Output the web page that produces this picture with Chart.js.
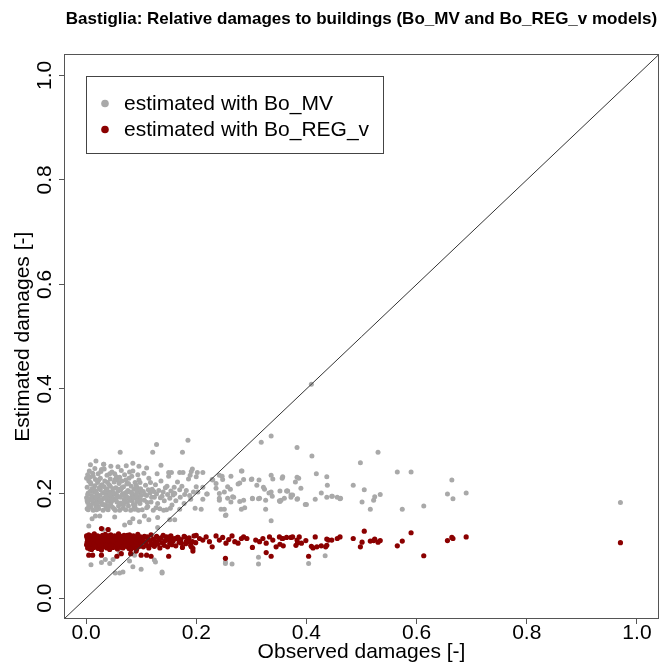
<!DOCTYPE html>
<html><head><meta charset="utf-8">
<script src="https://cdn.jsdelivr.net/npm/chart.js@4.4.1/dist/chart.umd.min.js"></script>
<style>html,body{margin:0;padding:0;background:#fff;}canvas{display:block;}</style>
</head><body>
<canvas id="c" width="665" height="668"></canvas>
<script>
const chartTitle = 'Bastiglia: Relative damages to buildings (Bo_MV and Bo_REG_v models)';
const xAxisTitle = 'Observed damages [-]';
const yAxisTitle = 'Estimated damages [-]';
const seriesNames = ['estimated with Bo_MV', 'estimated with Bo_REG_v'];
const tickValues = [0, 0.2, 0.4, 0.6, 0.8, 1.0];
const axisRange = [-0.04, 1.04];

// observed vs estimated (Bo_MV)
const boMV = [
[0.002,0.171],[0.003,0.183],[0.001,0.192],[0.004,0.201],[0.002,0.212],[0.005,0.224],[0.003,0.236],[0.006,0.178],[0.007,0.189],[0.008,0.205],
[0.009,0.218],[0.004,0.169],[0.010,0.196],[0.001,0.229],[0.006,0.243],[0.009,0.174],[0.002,0.186],[0.011,0.209],[0.007,0.231],[0.012,0.181],
[0.013,0.168],[0.014,0.192],[0.015,0.203],[0.016,0.215],[0.017,0.227],[0.018,0.176],[0.019,0.188],[0.020,0.199],[0.021,0.221],[0.022,0.238],
[0.023,0.171],[0.024,0.184],[0.025,0.196],[0.026,0.207],[0.027,0.214],[0.028,0.246],[0.029,0.179],[0.013,0.233],[0.016,0.248],[0.019,0.169],
[0.021,0.194],[0.024,0.211],[0.026,0.229],[0.028,0.187],[0.030,0.201],[0.018,0.205],[0.015,0.182],[0.022,0.175],
[0.031,0.168],[0.032,0.191],[0.033,0.213],[0.034,0.224],[0.035,0.178],[0.036,0.198],[0.037,0.206],[0.038,0.235],[0.039,0.185],[0.040,0.169],
[0.041,0.193],[0.042,0.217],[0.043,0.202],[0.044,0.228],[0.045,0.181],[0.046,0.195],[0.047,0.241],[0.048,0.174],[0.049,0.209],[0.050,0.188],
[0.051,0.222],[0.052,0.199],[0.053,0.168],[0.054,0.211],[0.055,0.232],[0.056,0.184],[0.057,0.196],[0.058,0.205],[0.059,0.176],[0.060,0.219],
[0.033,0.247],[0.036,0.172],[0.039,0.221],[0.042,0.186],[0.045,0.203],[0.048,0.192],[0.051,0.171],[0.054,0.189],[0.057,0.226],[0.035,0.204],
[0.044,0.197],[0.052,0.238],
[0.061,0.168],[0.062,0.193],[0.063,0.207],[0.064,0.181],[0.065,0.224],[0.066,0.199],[0.067,0.172],[0.068,0.213],[0.069,0.188],[0.070,0.236],
[0.071,0.201],[0.072,0.169],[0.073,0.195],[0.074,0.218],[0.075,0.183],[0.076,0.206],[0.077,0.176],[0.078,0.229],[0.079,0.191],[0.080,0.203],
[0.081,0.168],[0.082,0.214],[0.083,0.186],[0.084,0.197],[0.085,0.243],[0.086,0.179],[0.087,0.208],[0.088,0.192],[0.089,0.221],[0.090,0.171],
[0.091,0.199],[0.092,0.185],[0.093,0.211],[0.094,0.194],[0.095,0.168],[0.096,0.226],[0.097,0.202],[0.098,0.181],[0.099,0.209],[0.100,0.196],
[0.064,0.244],[0.068,0.178],[0.072,0.226],[0.076,0.192],[0.083,0.233],[0.087,0.173],[0.091,0.216],[0.095,0.205],[0.099,0.188],
[0.102,0.169],[0.104,0.204],[0.106,0.187],[0.108,0.216],[0.110,0.196],[0.112,0.175],[0.114,0.229],[0.116,0.201],[0.118,0.184],[0.120,0.208],
[0.122,0.168],[0.124,0.193],[0.126,0.217],[0.128,0.199],[0.130,0.181],[0.132,0.206],[0.134,0.171],[0.136,0.224],[0.138,0.195],[0.140,0.203],
[0.142,0.186],[0.144,0.211],[0.146,0.169],[0.148,0.198],[0.150,0.233],[0.152,0.191],[0.154,0.205],[0.156,0.178],[0.158,0.197],[0.160,0.212],
[0.105,0.239],[0.111,0.183],[0.117,0.221],[0.123,0.204],[0.129,0.238],[0.135,0.192],[0.141,0.168],[0.147,0.214],[0.153,0.172],[0.159,0.201],
[0.107,0.198],[0.113,0.207],[0.119,0.193],
[0.003,0.198],[0.005,0.176],[0.008,0.221],[0.011,0.187],[0.014,0.209],[0.017,0.194],[0.020,0.181],[0.023,0.226],[0.026,0.188],[0.029,0.217],
[0.032,0.179],[0.035,0.191],[0.038,0.208],[0.041,0.176],[0.044,0.214],[0.047,0.186],[0.050,0.201],[0.053,0.227],[0.056,0.193],[0.059,0.208],
[0.062,0.182],[0.065,0.211],[0.068,0.196],[0.071,0.185],[0.074,0.203],[0.077,0.219],[0.080,0.188],[0.083,0.201],[0.086,0.192],[0.089,0.178],
[0.092,0.206],[0.095,0.186],[0.098,0.221],[0.012,0.239],[0.027,0.242],[0.043,0.238],[0.061,0.231],[0.079,0.241],[0.094,0.236],
[0.163,0.186],[0.166,0.222],[0.171,0.193],[0.174,0.214],[0.178,0.181],[0.182,0.206],[0.186,0.228],[0.190,0.189],[0.195,0.203],[0.198,0.172],
[0.008,0.255],[0.018,0.262],[0.032,0.256],[0.045,0.252],[0.058,0.251],[0.073,0.253],[0.085,0.258],[0.096,0.252],[0.110,0.249],[0.136,0.254],
[0.062,0.279],[0.121,0.279],[0.128,0.294],[0.175,0.279],[0.185,0.302],[0.193,0.247],[0.032,0.256],
[0.150,0.240],[0.155,0.240],[0.170,0.240],[0.176,0.240],[0.191,0.242],[0.202,0.240],[0.282,0.243],[0.242,0.235],[0.300,0.227],[0.314,0.226],
[0.336,0.235],[0.357,0.232],[0.236,0.219],[0.229,0.227],[0.248,0.227],[0.262,0.208],[0.276,0.218],[0.286,0.227],[0.310,0.216],[0.324,0.208],
[0.336,0.203],[0.352,0.205],[0.364,0.205],[0.372,0.197],[0.200,0.213],[0.212,0.212],[0.203,0.203],[0.219,0.199],[0.170,0.207],[0.161,0.200],
[0.179,0.198],[0.188,0.196],[0.242,0.191],[0.257,0.191],[0.266,0.194],[0.263,0.184],[0.279,0.185],[0.242,0.200],[0.251,0.203],[0.302,0.191],
[0.315,0.191],[0.351,0.186],[0.360,0.191],[0.209,0.170],[0.245,0.170],[0.251,0.170],[0.282,0.170],[0.288,0.173],[0.326,0.170],[0.253,0.158],
[0.336,0.148],[0.152,0.150],[0.170,0.170],[0.318,0.298],[0.336,0.310],[0.212,0.240],[0.200,0.232],[0.189,0.235],[0.220,0.199],[0.212,0.189],
[0.236,0.210],[0.230,0.226],[0.247,0.233],[0.257,0.213],[0.263,0.233],[0.279,0.220],[0.268,0.193],[0.286,0.187],[0.302,0.190],[0.313,0.190],
[0.283,0.243],[0.301,0.228],[0.339,0.228],[0.356,0.229],[0.383,0.231],[0.380,0.222],[0.322,0.212],[0.332,0.201],[0.338,0.195],[0.366,0.205],
[0.326,0.187],[0.372,0.193],[0.354,0.187],[0.383,0.189],[0.242,0.187],
[0.352,0.185],[0.365,0.205],[0.375,0.197],[0.383,0.288],[0.386,0.229],[0.384,0.190],
[0.409,0.409],[0.410,0.272],[0.530,0.279],[0.498,0.259],[0.565,0.241],[0.590,0.241],[0.418,0.238],[0.437,0.232],[0.664,0.226],[0.390,0.210],
[0.438,0.216],[0.485,0.216],[0.505,0.207],[0.427,0.201],[0.446,0.195],[0.437,0.193],[0.456,0.193],[0.461,0.190],[0.416,0.189],[0.524,0.194],
[0.534,0.198],[0.522,0.187],[0.501,0.184],[0.516,0.170],[0.574,0.170],[0.613,0.176],[0.656,0.199],[0.666,0.190],[0.690,0.201],[0.398,0.179],
[0.970,0.183],[0.447,0.195],[0.462,0.191],[0.400,0.179],
[0.017,0.157],[0.025,0.157],[0.011,0.152],[0.052,0.155],[0.085,0.152],[0.106,0.157],[0.114,0.150],[0.097,0.146],[0.080,0.144],[0.070,0.140],
[0.005,0.138],[0.130,0.154],[0.031,0.131],[0.041,0.131],[0.130,0.135],[0.139,0.117],[0.079,0.145],[0.088,0.170],[0.110,0.173],[0.127,0.173],
[0.161,0.150],[0.254,0.159],
[0.009,0.064],[0.028,0.068],[0.043,0.066],[0.049,0.074],[0.061,0.087],[0.053,0.048],[0.061,0.048],[0.067,0.050],[0.085,0.060],[0.100,0.055],
[0.124,0.073],[0.138,0.048],[0.079,0.071],[0.088,0.082],[0.035,0.074],[0.126,0.069],[0.138,0.050],[0.253,0.069],[0.265,0.065],[0.313,0.065],
[0.313,0.078],[0.404,0.066],[0.434,0.081],[0.253,0.066]
];

// observed vs estimated (Bo_REG_v)
const boREGv = [
[0.001,0.102],[0.002,0.115],[0.003,0.096],[0.004,0.108],[0.005,0.121],[0.006,0.099],[0.007,0.112],[0.008,0.105],[0.009,0.118],[0.010,0.093],
[0.011,0.109],[0.012,0.101],[0.013,0.116],[0.014,0.097],[0.015,0.123],[0.016,0.106],[0.017,0.113],[0.018,0.099],[0.019,0.110],[0.020,0.104],
[0.021,0.119],[0.022,0.095],[0.023,0.111],[0.024,0.107],[0.025,0.117],[0.026,0.100],[0.027,0.114],[0.028,0.092],[0.029,0.108],[0.030,0.120],
[0.002,0.107],[0.004,0.097],[0.006,0.117],[0.008,0.111],[0.010,0.103],[0.013,0.120],[0.016,0.098],[0.019,0.114],[0.022,0.108],[0.025,0.101],
[0.028,0.116],[0.001,0.119],[0.003,0.110],[0.005,0.104],[0.007,0.094],
[0.031,0.103],[0.032,0.115],[0.033,0.098],[0.034,0.109],[0.035,0.122],[0.036,0.105],[0.037,0.112],[0.038,0.096],[0.039,0.118],[0.040,0.107],
[0.041,0.100],[0.042,0.114],[0.043,0.093],[0.044,0.110],[0.045,0.121],[0.046,0.102],[0.047,0.116],[0.048,0.108],[0.049,0.097],[0.050,0.113],
[0.051,0.105],[0.052,0.119],[0.053,0.099],[0.054,0.111],[0.055,0.106],[0.056,0.117],[0.057,0.094],[0.058,0.109],[0.059,0.123],[0.060,0.102],
[0.061,0.114],[0.062,0.098],[0.063,0.110],[0.064,0.118],[0.065,0.104],[0.066,0.112],[0.067,0.096],[0.068,0.107],[0.069,0.120],[0.070,0.101],
[0.033,0.112],[0.037,0.101],[0.041,0.119],[0.045,0.099],[0.049,0.110],[0.053,0.116],[0.057,0.103],[0.061,0.108],[0.065,0.097],[0.069,0.113],
[0.071,0.115],[0.072,0.106],[0.073,0.099],[0.074,0.118],[0.075,0.109],[0.076,0.102],[0.077,0.113],[0.078,0.095],[0.079,0.121],[0.080,0.107],
[0.081,0.111],[0.082,0.100],[0.083,0.116],[0.084,0.104],[0.085,0.097],[0.086,0.119],[0.087,0.108],[0.088,0.112],[0.089,0.101],[0.090,0.115],
[0.091,0.106],[0.092,0.094],[0.093,0.110],[0.094,0.122],[0.095,0.103],[0.096,0.114],[0.097,0.099],[0.098,0.109],[0.099,0.117],[0.100,0.105],
[0.102,0.112],[0.104,0.098],[0.106,0.118],[0.108,0.107],[0.110,0.101],[0.112,0.114],[0.114,0.096],[0.116,0.110],[0.118,0.121],[0.120,0.104],
[0.075,0.120],[0.081,0.093],[0.087,0.116],[0.093,0.104],[0.099,0.111],[0.105,0.108],[0.111,0.117],[0.117,0.102],
[0.122,0.113],[0.124,0.099],[0.126,0.108],[0.128,0.118],[0.130,0.103],[0.132,0.111],[0.134,0.096],[0.136,0.115],[0.138,0.106],[0.140,0.120],
[0.142,0.101],[0.144,0.110],[0.146,0.117],[0.148,0.098],[0.150,0.112],[0.152,0.105],[0.154,0.119],[0.156,0.102],[0.158,0.109],[0.160,0.114],
[0.163,0.100],[0.166,0.116],[0.169,0.107],[0.172,0.112],[0.175,0.097],[0.178,0.118],[0.181,0.104],[0.184,0.110],[0.187,0.115],[0.190,0.101],
[0.193,0.108],[0.196,0.119],[0.199,0.106],
[0.152,0.117],[0.158,0.111],[0.164,0.114],[0.173,0.105],[0.179,0.117],[0.185,0.108],[0.194,0.095],[0.200,0.120],[0.206,0.114],[0.212,0.111],
[0.218,0.117],[0.224,0.108],[0.229,0.098],[0.236,0.119],[0.242,0.111],[0.248,0.116],[0.254,0.105],[0.259,0.112],[0.265,0.119],[0.270,0.108],
[0.276,0.105],[0.282,0.114],[0.286,0.117],[0.292,0.114],[0.302,0.097],[0.308,0.111],[0.315,0.108],[0.321,0.114],[0.327,0.105],[0.333,0.117],
[0.339,0.111],[0.345,0.098],[0.351,0.117],[0.357,0.114],[0.372,0.116],[0.384,0.106],[0.327,0.087],[0.336,0.080],[0.253,0.076],
[0.150,0.080],[0.110,0.082],[0.118,0.080],[0.194,0.090],[0.404,0.080],[0.081,0.085],[0.056,0.080],[0.028,0.082],[0.012,0.082],[0.005,0.082],
[0.064,0.085],[0.091,0.090],[0.100,0.082],[0.028,0.133],[0.040,0.131],[0.167,0.116],[0.182,0.108],[0.191,0.098],
[0.352,0.103],[0.356,0.114],[0.358,0.100],[0.364,0.116],[0.375,0.117],[0.381,0.101],[0.383,0.111],[0.391,0.105],
[0.387,0.117],[0.399,0.110],[0.409,0.099],[0.412,0.096],[0.416,0.117],[0.419,0.098],[0.427,0.100],[0.435,0.098],[0.437,0.101],[0.437,0.113],
[0.440,0.111],[0.446,0.111],[0.456,0.114],[0.461,0.117],[0.485,0.114],[0.498,0.098],[0.501,0.107],[0.505,0.128],[0.516,0.109],[0.522,0.110],
[0.524,0.113],[0.530,0.107],[0.534,0.110],[0.565,0.100],[0.574,0.109],[0.590,0.125],[0.613,0.081],[0.656,0.110],[0.664,0.116],[0.666,0.114],
[0.690,0.117],[0.970,0.106]
];

const greyColor = '#a9a9a9';
const redColor = '#8b0000';
const fontFamily = '"Liberation Sans", Arial, Helvetica, sans-serif';

const toPoints = arr => arr.map(p => ({x: p[0], y: p[1]}));

const boxPlugin = {
  id: 'rbox',
  afterDraw(chart) {
    const {ctx, chartArea: a} = chart;
    ctx.save();
    ctx.strokeStyle = '#555';
    ctx.lineWidth = 1;
    ctx.strokeRect(Math.round(a.left) + 0.5, Math.round(a.top) + 0.5, Math.round(a.right - a.left) - 1, Math.round(a.bottom - a.top) - 1);
    // legend
    const lx = 86.5, ly = 76.5, lw = 297, lh = 77;
    ctx.fillStyle = '#fff';
    ctx.fillRect(lx, ly, lw, lh);
    ctx.strokeStyle = '#444';
    ctx.strokeRect(lx, ly, lw, lh);
    const cols = [greyColor, redColor];
    const rows = [103.5, 129.5];
    ctx.font = '21px ' + fontFamily;
    ctx.textBaseline = 'middle';
    ctx.textAlign = 'left';
    seriesNames.forEach((name, i) => {
      ctx.beginPath();
      ctx.fillStyle = cols[i];
      ctx.arc(105, rows[i], 3.8, 0, Math.PI * 2);
      ctx.fill();
      ctx.fillStyle = '#000';
      ctx.fillText(name, 124, rows[i] + 1);
    });
    ctx.restore();
  }
};

new Chart(document.getElementById('c'), {
  type: 'scatter',
  data: {
    datasets: [
      {label: seriesNames[0], data: toPoints(boMV), backgroundColor: greyColor, borderWidth: 0, pointRadius: 2.5, order: 2},
      {label: seriesNames[1], data: toPoints(boREGv), backgroundColor: redColor, borderWidth: 0, pointRadius: 2.6, order: 1},
      {type: 'line', label: 'identity', data: [{x: axisRange[0], y: axisRange[0]}, {x: axisRange[1], y: axisRange[1]}],
       borderColor: '#333', borderWidth: 1, pointRadius: 0, fill: false, order: 0}
    ]
  },
  options: {
    responsive: false,
    animation: false,
    events: [],
    layout: {padding: {top: 0, right: 6, bottom: 0, left: 0}},
    font: {family: fontFamily},
    plugins: {
      legend: {display: false},
      tooltip: {enabled: false},
      title: {display: true, text: chartTitle, fullSize: false, color: '#000',
        font: {family: fontFamily, size: 17, weight: 'bold'}, padding: {top: 9, bottom: 25}}
    },
    scales: {
      x: {
        type: 'linear', position: 'bottom', min: axisRange[0], max: axisRange[1],
        afterBuildTicks: s => { s.ticks = tickValues.map(v => ({value: v})); },
        afterFit: s => { s.height = 49; },
        grid: {display: true, drawOnChartArea: false, drawTicks: true, tickLength: 5, color: '#555'},
        border: {display: false},
        ticks: {color: '#000', font: {family: fontFamily, size: 21}, padding: -3, maxRotation: 0, autoSkip: false,
          callback: v => Number(v).toFixed(1)},
        title: {display: true, text: xAxisTitle, color: '#000', font: {family: fontFamily, size: 21}, padding: {top: 0, bottom: 3}}
      },
      y: {
        type: 'linear', position: 'left', min: axisRange[0], max: axisRange[1],
        afterBuildTicks: s => { s.ticks = tickValues.map(v => ({value: v})); },
        afterFit: s => { s.width = 64; },
        grid: {display: true, drawOnChartArea: false, drawTicks: true, tickLength: 5, color: '#555'},
        border: {display: false},
        ticks: {color: '#000', font: {family: fontFamily, size: 21}, padding: -1, minRotation: 90, maxRotation: 90, crossAlign: 'center', autoSkip: false,
          callback: v => Number(v).toFixed(1)},
        title: {display: true, text: yAxisTitle, color: '#000', font: {family: fontFamily, size: 21}, padding: {top: 11, bottom: 0}}
      }
    }
  },
  plugins: [boxPlugin]
});
</script>
</body></html>
